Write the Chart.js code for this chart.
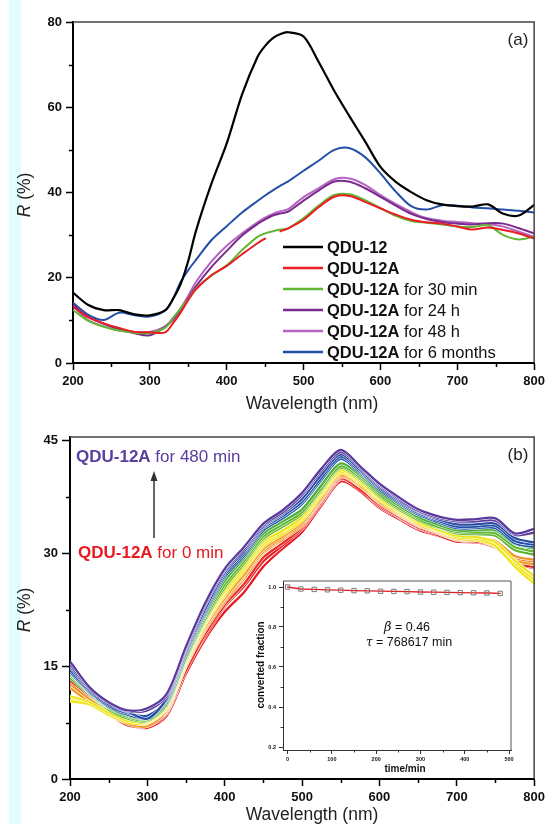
<!DOCTYPE html>
<html>
<head>
<meta charset="utf-8">
<script src="https://cdn.jsdelivr.net/npm/chart.js@4.4.1/dist/chart.umd.min.js"></script>
<style>
  body { margin: 0; background: #fff; }
  #wrap { position: relative; width: 549px; height: 824px; overflow: hidden; background: #fff; }
  .strip { position: absolute; left: 9px; top: 0; width: 12px; height: 824px; background: #e2fbfb; }
  canvas { position: absolute; }
</style>
</head>
<body>
<div id="wrap">
  <div class="strip"></div>
  <canvas id="chartA" style="left:0;top:0" width="549" height="420"></canvas>
  <canvas id="chartB" style="left:0;top:420px" width="549" height="404"></canvas>
  <canvas id="inset" style="left:230px;top:570px" width="300" height="210"></canvas>
</div>
<script>
// ---------- panel (a) data ----------
const wlA = [200, 220, 240, 260, 280, 300, 320, 330, 340, 350, 360, 380, 400, 420, 440, 450, 460, 470,
  480, 500, 520, 540, 560, 580, 600, 620, 640, 660, 680, 700, 720, 740, 760, 780, 800];
const qdu12 = [16.5, 13.6, 12.4, 12.4, 11.4, 11.2, 12.4, 15.0, 18.5, 24.0, 31.0, 42.0, 51.5, 63.0, 71.8, 74.4, 76.2, 77.2,
  77.6, 76.6, 70.5, 63.8, 57.8, 52.0, 46.0, 42.5, 40.1, 38.2, 37.2, 36.8, 36.7, 37.2, 35.0, 34.6, 37.1];
const qdu12A = [13.2, 10.7, 9.3, 8.2, 7.3, 7.2, 7.2, 9.3, 11.8, 14.8, 17.3, 20.6, 22.8, 25.5, 28.1, 29.2, null, 30.9,
  31.6, 33.6, 36.6, 39.0, 39.2, 37.8, 36.3, 34.8, 33.6, 33.0, 32.7, 32.0, 31.3, 31.8, 31.2, 30.4, 29.2];
const qdu12A30min = [12.4, 9.9, 8.5, 7.6, 7.1, 7.0, 8.3, 10.5, 12.8, 15.0, 17.5, 20.5, 22.9, 26.5, 29.6, 30.4, 30.9, 31.3,
  31.6, 34.0, 37.0, 39.4, 39.6, 38.2, 36.3, 34.5, 33.3, 32.9, 32.5, 32.0, 31.9, 32.3, 30.0, 29.0, 29.6];
const qdu12A24h = [13.6, 10.8, 9.2, 7.9, 7.0, 6.5, 8.5, 10.1, 12.5, 15.2, 18.0, 22.5, 26.3, 29.9, 32.6, 33.7, 34.6, 35.1,
  35.5, 38.1, 40.5, 42.6, 42.5, 41.0, 39.0, 36.9, 35.0, 33.8, 33.1, 32.7, 32.5, 32.8, 32.7, 31.6, 30.4];
const qdu12A48h = [13.4, 10.0, 8.6, 7.6, 7.3, 7.3, 8.6, 10.5, 12.8, 15.8, 19.0, 23.8, 27.5, 30.4, 33.0, 34.1, 35.0, 35.6,
  36.1, 38.9, 41.0, 43.1, 43.3, 41.8, 39.4, 37.3, 35.4, 34.0, 33.4, 33.1, 32.8, 32.6, 32.0, 30.8, 29.6];
const qdu12A6mo = [14.1, 11.3, 10.1, 11.8, 11.2, 10.9, 12.3, 15.0, 19.0, 21.8, 24.2, 28.8, 32.1, 35.3, 38.0, 39.3, 40.5, 41.6,
  42.6, 45.1, 47.5, 50.0, 50.4, 48.3, 44.5, 40.2, 36.8, 36.0, 37.0, 36.9, 36.5, 36.3, 36.0, 35.7, 35.3];

const seriesA = [qdu12, qdu12A, qdu12A30min, qdu12A24h, qdu12A48h, qdu12A6mo];
const colorsA = ["#000000", "#ec1c24", "#62b832", "#7a2a8e", "#b563c0", "#2350a6"];
const legendBoldA = ["QDU-12", "QDU-12A", "QDU-12A", "QDU-12A", "QDU-12A", "QDU-12A"];
const legendRestA = ["", "", " for 30 min", " for 24 h", " for 48 h", " for 6 months"];

// ---------- panel (b) data ----------
const wlB = [200, 225, 250, 275, 300, 325, 350, 375, 400, 425, 450, 475, 500,
  525, 550, 575, 600, 625, 650, 675, 700, 725, 750, 775, 800];
const timesB = [0, 30, 60, 90, 120, 150, 180, 210, 240, 270, 300, 330, 360, 390, 420, 450, 480];
const colorsB = ["#e8191f", "#e8191f", "#ea2a1e", "#f2841f", "#f39224", "#f49a26",
  "#f2e41a", "#f0e518", "#eee61c", "#5db531", "#5fb832", "#4fae38",
  "#2155a8", "#1f4fa6", "#264ca2", "#5c3b9c", "#5a3a9e"];
const spectraB = [
  [12.7, 10.6, 8.6, 7.2, 6.8, 8.4, 14.0, 18.6, 22.2, 24.8, 28.2, 30.6, 32.8, 36.3, 39.5, 38.2, 36.0, 34.5, 33.1, 32.3, 31.5, 31.4, 30.7, 28.6, 28.0],
  [13.0, 10.8, 8.9, 7.3, 7.0, 8.7, 14.6, 19.0, 22.9, 25.6, 28.9, 31.0, 33.2, 36.6, 39.8, 38.5, 36.2, 34.7, 33.3, 32.4, 31.5, 31.6, 31.0, 28.9, 28.3],
  [12.5, 10.5, 8.7, 7.1, 7.1, 8.9, 14.4, 19.3, 23.1, 25.9, 29.4, 31.3, 33.4, 36.8, 39.9, 38.4, 36.4, 34.8, 33.4, 32.6, 31.7, 31.5, 30.9, 28.7, 28.1],
  [12.3, 10.4, 8.8, 7.4, 7.2, 9.0, 15.0, 19.8, 23.5, 26.6, 30.0, 31.8, 33.6, 37.0, 40.1, 38.8, 36.6, 35.0, 33.6, 32.7, 31.8, 31.7, 31.3, 29.2, 28.8],
  [12.6, 10.6, 8.9, 7.5, 7.3, 9.2, 15.2, 20.0, 23.8, 26.9, 30.2, 32.0, 33.8, 37.1, 40.2, 38.9, 36.7, 35.1, 33.7, 32.8, 31.9, 31.9, 31.6, 29.6, 29.1],
  [12.1, 10.2, 8.6, 7.3, 7.0, 9.1, 15.1, 20.2, 24.0, 27.1, 30.5, 32.2, 34.0, 37.3, 40.4, 39.0, 36.8, 35.2, 33.8, 32.8, 31.8, 31.8, 31.0, 29.0, 28.5],
  [10.5, 10.0, 8.6, 7.6, 7.4, 9.3, 15.3, 20.5, 24.4, 27.6, 30.9, 32.5, 34.3, 37.6, 40.6, 39.2, 37.0, 35.3, 33.9, 32.9, 31.9, 31.7, 30.8, 28.5, 26.4],
  [10.3, 9.9, 8.5, 7.5, 7.5, 9.4, 15.5, 20.8, 24.7, 27.9, 31.2, 32.8, 34.6, 37.9, 40.8, 39.4, 37.2, 35.5, 34.0, 33.0, 32.1, 31.9, 30.9, 28.2, 25.9],
  [11.0, 10.2, 8.8, 7.7, 7.6, 9.6, 15.7, 21.0, 25.0, 28.2, 31.5, 33.0, 34.8, 38.1, 41.0, 39.5, 37.3, 35.6, 34.2, 33.1, 32.3, 32.1, 31.4, 29.0, 26.9],
  [13.4, 11.2, 9.2, 8.0, 7.7, 9.7, 15.8, 21.1, 25.4, 28.6, 31.9, 33.5, 35.2, 38.4, 41.3, 39.8, 37.6, 35.8, 34.4, 33.4, 32.6, 32.5, 32.3, 30.4, 29.8],
  [13.8, 11.4, 9.4, 8.2, 7.8, 9.8, 16.0, 21.3, 25.8, 28.9, 32.2, 33.8, 35.4, 38.6, 41.5, 40.0, 37.8, 36.0, 34.6, 33.5, 32.8, 32.7, 32.6, 30.8, 30.2],
  [14.0, 11.6, 9.5, 8.4, 8.0, 10.0, 16.2, 21.7, 26.3, 29.3, 32.6, 34.2, 35.8, 39.0, 41.9, 40.3, 38.1, 36.3, 34.8, 33.8, 33.0, 33.0, 33.0, 31.2, 30.6],
  [14.2, 11.5, 9.6, 8.5, 8.1, 10.3, 16.6, 22.0, 26.8, 29.6, 33.0, 34.6, 36.5, 39.7, 42.5, 40.6, 38.4, 36.6, 35.1, 34.1, 33.3, 33.3, 33.3, 31.3, 30.8],
  [14.5, 11.6, 9.7, 8.7, 8.4, 10.5, 16.8, 22.3, 27.1, 29.9, 33.3, 34.9, 36.8, 40.0, 42.8, 40.8, 38.6, 36.8, 35.3, 34.3, 33.5, 33.5, 33.6, 31.6, 31.1],
  [14.9, 11.8, 9.9, 8.9, 8.0, 10.7, 17.1, 22.6, 27.4, 30.2, 33.5, 35.2, 37.2, 40.4, 43.1, 41.0, 38.8, 37.0, 35.5, 34.5, 33.8, 33.8, 33.9, 32.0, 31.4],
  [15.2, 12.0, 10.1, 9.0, 9.1, 11.0, 17.3, 23.1, 27.7, 30.5, 33.7, 35.4, 37.7, 40.9, 43.4, 41.3, 39.0, 37.2, 35.6, 34.7, 34.2, 34.2, 34.3, 32.4, 32.7],
  [15.6, 12.2, 10.2, 9.1, 9.4, 11.3, 17.6, 23.4, 27.9, 30.8, 33.9, 35.7, 38.0, 41.2, 43.7, 41.5, 39.2, 37.4, 35.8, 34.9, 34.4, 34.5, 34.6, 32.6, 33.2]
];

// ---------- inset data ----------
const fracTime = [0, 30, 60, 90, 120, 150, 180, 210, 240, 270, 300, 330, 360, 390, 420, 450, 480];
const fracValue = [1.0, 0.99, 0.988, 0.986, 0.984, 0.982, 0.981, 0.979, 0.978, 0.977, 0.975, 0.974, 0.973, 0.972, 0.971, 0.970, 0.968];

const FONT = '"Liberation Sans", Arial, Helvetica, sans-serif';

// draw a row of text pieces with different fonts/colours
function drawRuns(ctx, x, y, runs, align, rotate) {
  ctx.save();
  ctx.textBaseline = "middle";
  ctx.textAlign = "left";
  let total = 0;
  runs.forEach((r) => { ctx.font = r.font; total += ctx.measureText(r.t).width; });
  ctx.translate(x, y);
  if (rotate) ctx.rotate(-Math.PI / 2);
  let cx = align === "center" ? -total / 2 : 0;
  runs.forEach((r) => {
    ctx.font = r.font;
    ctx.fillStyle = r.color || "#111";
    ctx.fillText(r.t, cx, 0);
    cx += ctx.measureText(r.t).width;
  });
  ctx.restore();
}

function tracePath(ctx, pts) {
  ctx.beginPath();
  pts.forEach((p, i) => {
    if (p.skip) return;
    if (i === 0) { ctx.moveTo(p.x, p.y); return; }
    const q = pts[i - 1];
    if (q.cp2x !== undefined && p.cp1x !== undefined) {
      ctx.bezierCurveTo(q.cp2x, q.cp2y, p.cp1x, p.cp1y, p.x, p.y);
    } else {
      ctx.lineTo(p.x, p.y);
    }
  });
}

// frame, minor ticks and text drawn on top of each chart
function makeDecor(cfg) {
  return {
    id: "decor",
    beforeDatasetDraw(chart, args) {
      if (!cfg.halo) return;
      const ctx = chart.ctx;
      const a = chart.chartArea;
      ctx.save();
      ctx.beginPath();
      ctx.rect(a.left, a.top, a.right - a.left, a.bottom - a.top);
      ctx.clip();
      ctx.strokeStyle = "#ffffff";
      ctx.lineWidth = cfg.halo;
      ctx.lineJoin = "round";
      tracePath(ctx, args.meta.data);
      ctx.stroke();
      ctx.restore();
    },
    afterDraw(chart) {
      const ctx = chart.ctx;
      const a = chart.chartArea;
      const xs = chart.scales.x;
      const ys = chart.scales.y;
      ctx.save();
      ctx.strokeStyle = cfg.frameColor;
      ctx.lineWidth = cfg.frameWidth;
      ctx.beginPath();
      ctx.moveTo(a.left, a.top);
      ctx.lineTo(a.right, a.top);
      ctx.lineTo(a.right, a.bottom);
      ctx.stroke();

      ctx.strokeStyle = cfg.tickColor;
      ctx.lineWidth = cfg.tickWidth;
      ctx.beginPath();
      cfg.minorX.forEach((v) => {
        const px = Math.round(xs.getPixelForValue(v)) + 0.5;
        ctx.moveTo(px, a.bottom);
        ctx.lineTo(px, a.bottom + cfg.minorLen);
      });
      cfg.minorY.forEach((v) => {
        const py = Math.round(ys.getPixelForValue(v)) + 0.5;
        ctx.moveTo(a.left - cfg.minorLen, py);
        ctx.lineTo(a.left, py);
      });
      ctx.stroke();

      if (cfg.arrow) {
        const ar = cfg.arrow;
        ctx.strokeStyle = ar.color;
        ctx.fillStyle = ar.color;
        ctx.lineWidth = 1.5;
        ctx.beginPath();
        ctx.moveTo(ar.x, ar.y0);
        ctx.lineTo(ar.x, ar.y1 + 8);
        ctx.stroke();
        ctx.beginPath();
        ctx.moveTo(ar.x, ar.y1);
        ctx.lineTo(ar.x - 3.5, ar.y1 + 10);
        ctx.lineTo(ar.x + 3.5, ar.y1 + 10);
        ctx.closePath();
        ctx.fill();
      }

      if (cfg.legend) {
        const lg = cfg.legend;
        lg.colors.forEach((c, i) => {
          const y = lg.y + i * lg.step;
          ctx.strokeStyle = c;
          ctx.lineWidth = 2.5;
          ctx.beginPath();
          ctx.moveTo(lg.x, y);
          ctx.lineTo(lg.x + lg.len, y);
          ctx.stroke();
          drawRuns(ctx, lg.x + lg.len + 4, y + 1, [
            { t: lg.bold[i], font: "bold 16.5px " + FONT, color: "#111" },
            { t: lg.rest[i], font: "16.5px " + FONT, color: "#111" }
          ], "left", false);
        });
      }

      cfg.texts.forEach((t) => drawRuns(ctx, t.x, t.y, t.runs, t.align, t.rotate));
      ctx.restore();
    }
  };
}

function makeScale(min, max, tickVals, size, isX, o) {
  return {
    type: "linear",
    min: min,
    max: max,
    afterBuildTicks: (s) => { s.ticks = tickVals.map((v) => ({ value: v })); },
    afterFit: (s) => { if (isX) s.height = size; else s.width = size; },
    grid: { drawOnChartArea: false, drawTicks: true, tickLength: o.tickLen, tickWidth: o.tickW, tickColor: o.color },
    border: { display: true, color: o.color, width: o.axisW },
    ticks: {
      font: { family: FONT, size: o.fs, weight: "bold" },
      color: "#111",
      padding: o.pad,
      maxRotation: 0,
      autoSkip: false,
      callback: o.fmt || ((v) => String(v))
    }
  };
}

const baseOptions = {
  animation: false,
  responsive: false,
  events: [],
  plugins: { legend: { display: false }, tooltip: { enabled: false } },
  elements: { point: { radius: 0 }, line: { tension: 0.3, borderWidth: 2, borderCapStyle: "round", borderJoinStyle: "round" } }
};

const titleFont = "17.5px " + FONT;
const italicFont = "italic 17.5px " + FONT;

// ---------- chart (a) ----------
new Chart(document.getElementById("chartA"), {
  type: "line",
  data: {
    datasets: seriesA.map((vals, k) => ({
      data: wlA.map((w, i) => ({ x: w, y: vals[i] })),
      borderColor: colorsA[k],
      borderWidth: k === 0 ? 2.2 : 2,
      spanGaps: false
    }))
  },
  options: Object.assign({}, baseOptions, {
    layout: { padding: { left: 0, top: 22, right: 11, bottom: 0 } },
    scales: {
      x: makeScale(200, 800, [200, 300, 400, 500, 600, 700, 800], 57, true,
        { tickLen: 7, tickW: 1.5, axisW: 2, fs: 13, pad: 4, color: "#000" }),
      y: makeScale(0, 80, [0, 20, 40, 60, 80], 73, false,
        { tickLen: 7, tickW: 1.5, axisW: 2, fs: 13, pad: 4, color: "#000" })
    }
  }),
  plugins: [makeDecor({
    frameColor: "#444", frameWidth: 1.5, tickColor: "#000", tickWidth: 1.5, minorLen: 4,
    minorX: [250, 350, 450, 550, 650, 750],
    minorY: [10, 30, 50, 70],
    legend: { x: 283, y: 247, step: 21, len: 40, colors: colorsA, bold: legendBoldA, rest: legendRestA },
    texts: [
      { x: 312, y: 404, align: "center", runs: [{ t: "Wavelength (nm)", font: titleFont, color: "#222" }] },
      { x: 25, y: 195, align: "center", rotate: true, runs: [
        { t: "R", font: italicFont, color: "#222" }, { t: " (%)", font: titleFont, color: "#222" }] },
      { x: 518, y: 40, align: "center", runs: [{ t: "(a)", font: "17px " + FONT, color: "#222" }] }
    ]
  })]
});

// ---------- chart (b) ----------
const orderB = timesB.map((t, i) => i).reverse();
new Chart(document.getElementById("chartB"), {
  type: "line",
  data: {
    datasets: orderB.map((k) => ({
      label: timesB[k] + " min",
      data: wlB.map((w, i) => ({ x: w, y: spectraB[k][i] })),
      borderColor: colorsB[k],
      borderWidth: 2.3
    }))
  },
  options: Object.assign({}, baseOptions, {
    layout: { padding: { left: 0, top: 17, right: 11, bottom: 0 } },
    scales: {
      x: makeScale(200, 800, [200, 300, 400, 500, 600, 700, 800], 45, true,
        { tickLen: 7, tickW: 1.5, axisW: 2, fs: 13, pad: 4, color: "#000" }),
      y: makeScale(0, 45.4, [0, 15, 30, 45], 70, false,
        { tickLen: 8, tickW: 1.5, axisW: 2, fs: 13, pad: 4, color: "#000" })
    }
  }),
  plugins: [makeDecor({
    halo: 3.3,
    frameColor: "#444", frameWidth: 1.5, tickColor: "#000", tickWidth: 1.5, minorLen: 4,
    minorX: [250, 350, 450, 550, 650, 750],
    minorY: [7.5, 22.5, 37.5],
    arrow: { x: 154, y0: 118, y1: 51, color: "#333" },
    texts: [
      { x: 76, y: 37, align: "left", runs: [
        { t: "QDU-12A", font: "bold 17px " + FONT, color: "#5a3d9f" },
        { t: " for 480 min", font: "17px " + FONT, color: "#5a3d9f" }] },
      { x: 78, y: 133, align: "left", runs: [
        { t: "QDU-12A", font: "bold 17px " + FONT, color: "#e8191f" },
        { t: " for 0 min", font: "17px " + FONT, color: "#e8191f" }] },
      { x: 312, y: 395, align: "center", runs: [{ t: "Wavelength (nm)", font: titleFont, color: "#222" }] },
      { x: 25, y: 190, align: "center", rotate: true, runs: [
        { t: "R", font: italicFont, color: "#222" }, { t: " (%)", font: titleFont, color: "#222" }] },
      { x: 518, y: 35, align: "center", runs: [{ t: "(b)", font: "17px " + FONT, color: "#222" }] }
    ]
  })]
});

// ---------- inset ----------
new Chart(document.getElementById("inset"), {
  type: "line",
  data: {
    datasets: [{
      data: fracTime.map((t, i) => ({ x: t, y: fracValue[i] })),
      borderColor: "#e8191f",
      borderWidth: 1.3,
      tension: 0,
      pointStyle: "rect",
      pointRadius: 3.1,
      pointBorderWidth: 1,
      pointBorderColor: "#7a7a7a",
      pointBackgroundColor: "rgba(255,255,255,0)"
    }]
  },
  options: Object.assign({}, baseOptions, {
    layout: { padding: { left: 0, top: 11, right: 19, bottom: 0 } },
    scales: {
      x: makeScale(-10.4, 504.5, [0, 100, 200, 300, 400, 500], 30, true,
        { tickLen: 4, tickW: 1, axisW: 1, fs: 5.5, pad: 2, color: "#333" }),
      y: makeScale(0.185, 1.03, [0.2, 0.4, 0.6, 0.8, 1.0], 53, false,
        { tickLen: 4, tickW: 1, axisW: 1, fs: 5.5, pad: 3, color: "#333", fmt: (v) => v.toFixed(1) })
    }
  }),
  plugins: [makeDecor({
    frameColor: "#555", frameWidth: 1, tickColor: "#333", tickWidth: 1, minorLen: 2.5,
    minorX: [50, 150, 250, 350, 450],
    minorY: [0.3, 0.5, 0.7, 0.9],
    texts: [
      { x: 175, y: 199, align: "center", runs: [{ t: "time/min", font: "bold 10px " + FONT, color: "#111" }] },
      { x: 31, y: 95, align: "center", rotate: true, runs: [{ t: "converted fraction", font: "bold 10px " + FONT, color: "#111" }] },
      { x: 177, y: 58, align: "center", runs: [
        { t: "\u03b2", font: "italic 13px \"DejaVu Serif\", serif", color: "#111" },
        { t: " = 0.46", font: "12.5px " + FONT, color: "#111" }] },
      { x: 179, y: 73, align: "center", runs: [
        { t: "\u03c4", font: "italic 12px \"DejaVu Serif\", serif", color: "#111" },
        { t: " = 768617 min", font: "12.5px " + FONT, color: "#111" }] }
    ]
  })]
});
</script>
</body>
</html>
